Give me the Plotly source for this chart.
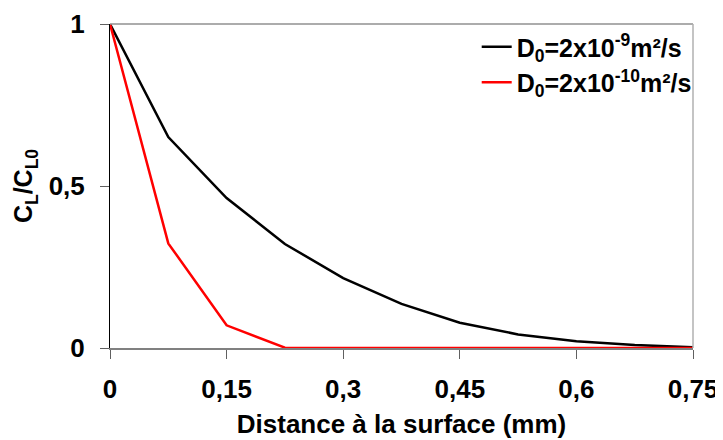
import plotly.graph_objects as go

x_mm = [0, 0.075, 0.15, 0.225, 0.3, 0.375, 0.45, 0.525, 0.6, 0.675, 0.75]
c_d9 = [1.0, 0.651, 0.463, 0.321, 0.216, 0.136, 0.078, 0.042, 0.021, 0.009, 0.002]
c_d10 = [1.0, 0.323, 0.07, 0.001, 0.0, 0.0, 0.0, 0.0, 0.0, 0.0, 0.0]
x_ticks = [0, 0.15, 0.3, 0.45, 0.6, 0.75]
x_ticktext = ["0", "0,15", "0,3", "0,45", "0,6", "0,75"]
y_ticks = [0, 0.5, 1]
y_ticktext = ["0", "0,5", "1"]

FONT = "Liberation Sans, Arial, sans-serif"

fig = go.Figure()
fig.add_trace(go.Scatter(x=x_mm, y=c_d9, mode="lines",
                         line=dict(color="black", width=2.5),
                         name="D<sub>0</sub>=2x10<sup>-9</sup>m²/s"))
fig.add_trace(go.Scatter(x=x_mm, y=c_d10, mode="lines",
                         line=dict(color="#ff0000", width=2.5),
                         name="D<sub>0</sub>=2x10<sup>-10</sup>m²/s"))

fig.update_layout(
    width=723, height=440,
    margin=dict(l=102, r=38, t=16, b=100, autoexpand=False),
    paper_bgcolor="white", plot_bgcolor="white",
    font=dict(family=FONT, color="black", size=26, weight="bold"),
    showlegend=True,
    legend=dict(x=0.629, y=1.0, xanchor="left", yanchor="top",
                bgcolor="rgba(0,0,0,0)", font=dict(size=25, weight="bold"),
                tracegroupgap=2, itemwidth=30),
    xaxis=dict(range=[0, 0.75], tickvals=x_ticks, ticktext=x_ticktext,
               showgrid=False, zeroline=False, showline=True, automargin=False,
               linecolor="#808080", linewidth=1.5,
               ticks="outside", ticklen=9, tickcolor="#606060",
               ticklabelstandoff=8,
               tickfont=dict(size=26, weight="bold"),
               title=dict(text="Distance à la surface (mm)", standoff=12,
                          font=dict(size=26, weight="bold"))),
    yaxis=dict(range=[0, 1], tickvals=y_ticks, ticktext=y_ticktext,
               showgrid=False, zeroline=False, showline=True, automargin=False,
               linecolor="black", linewidth=1,
               ticks="outside", ticklen=9, tickcolor="#606060",
               ticklabelstandoff=10,
               tickfont=dict(size=26, weight="bold"),
               title=dict(text="C<sub>L</sub>/C<sub>L0</sub>", standoff=8,
                          font=dict(size=25, weight="bold"))),
    shapes=[
        dict(type="line", xref="paper", yref="paper", x0=0, x1=1, y0=1, y1=1,
             line=dict(color="#909090", width=1.5)),
        dict(type="line", xref="paper", yref="paper", x0=1, x1=1, y0=0, y1=1,
             line=dict(color="#b0b0b0", width=1.5)),
    ],
)

fig.write_html("out.html")
